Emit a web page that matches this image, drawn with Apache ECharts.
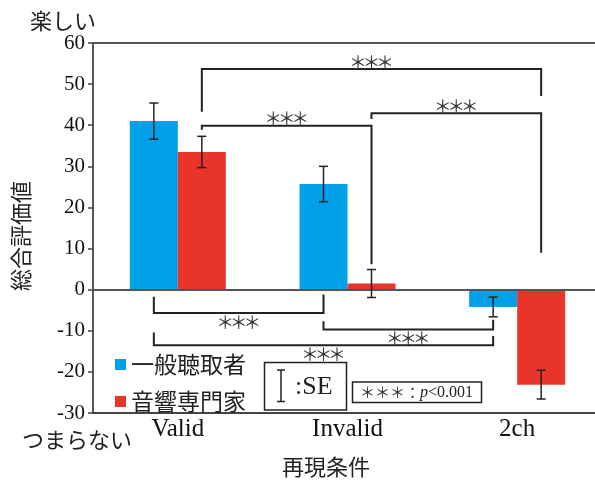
<!DOCTYPE html>
<html>
<head>
<meta charset="utf-8">
<script src="https://cdn.jsdelivr.net/npm/echarts@6/dist/echarts.min.js"></script>
<style>
html,body{margin:0;padding:0;background:#fff;overflow:hidden;}
#c{width:602px;height:483px;}
</style>
</head>
<body>
<div id="c"></div>
<script>
// ---- data ----
const categories = ['Valid', 'Invalid', '2ch'];
const seriesNames = ['一般聴取者', '音響専門家'];
const generalMean = [41.0, 25.7, -4.2];
const generalSE = [4.4, 4.3, 2.4];
const expertMean = [33.5, 1.5, -23.1];
const expertSE = [3.8, 3.4, 3.5];
const yTicks = { min: -30, max: 60, step: 10 };

// significance brackets (category index, series index 0=一般 1=専門, values on y axis)
const bracketFromCat = [0, 0, 1, 0, 1, 0];
const bracketFromSeries = [1, 1, 1, 0, 0, 0];
const bracketFromEnd = [43.3, 38.9, 41.5, -1.7, -7.7, -10.4];
const bracketLevel = [53.7, 39.9, 42.9, -5.7, -9.7, -13.5];
const bracketToCat = [2, 1, 2, 1, 2, 2];
const bracketToSeries = [1, 1, 1, 0, 0, 0];
const bracketToEnd = [47.1, 6.2, 9.0, -1.2, -7.3, -11.3];
const bracketText = ['＊＊＊', '＊＊＊', '＊＊＊', '＊＊＊', '＊＊＊', '＊＊＊'];

// ---- styles ----
const BLUE = '#00A0E9';
const RED = '#E8342A';
const INK = '#222';
const BAR_W = 48;
const STAR_STEP = 13.5;
const SERIF = '"Liberation Serif", "Times New Roman", serif';
const JP = '"Noto Sans CJK JP", sans-serif';

const chart = echarts.init(document.getElementById('c'), null, { renderer: 'canvas' });

function offsetFor(s) { return s === 0 ? -BAR_W / 2 : BAR_W / 2; }

function errorSeries(name, means, ses, s) {
  return {
    type: 'custom',
    name: name + '_err',
    z: 5,
    clip: false,
    data: categories.map((c, i) => [i, means[i], ses[i]]),
    renderItem: function (params, api) {
      const cat = api.value(0), m = api.value(1), e = api.value(2);
      const lo = api.coord([cat, m - e]);
      const hi = api.coord([cat, m + e]);
      const x = lo[0] + offsetFor(s);
      const st = { stroke: INK, lineWidth: 1.5 };
      return {
        type: 'group',
        children: [
          { type: 'line', shape: { x1: x, y1: lo[1], x2: x, y2: hi[1] }, style: st },
          { type: 'line', shape: { x1: x - 4.5, y1: lo[1], x2: x + 4.5, y2: lo[1] }, style: st },
          { type: 'line', shape: { x1: x - 4.5, y1: hi[1], x2: x + 4.5, y2: hi[1] }, style: st }
        ]
      };
    }
  };
}

const bracketSeries = {
  type: 'custom',
  name: 'brackets',
  z: 6,
  clip: false,
  data: bracketLevel.map((v, i) => [i, v]),
  renderItem: function (params, api) {
    const i = params.dataIndex;
    const xa = api.coord([bracketFromCat[i], 0])[0] + offsetFor(bracketFromSeries[i]);
    const xb = api.coord([bracketToCat[i], 0])[0] + offsetFor(bracketToSeries[i]);
    const ya = api.coord([0, bracketFromEnd[i]])[1];
    const yl = api.coord([0, bracketLevel[i]])[1];
    const yb = api.coord([0, bracketToEnd[i]])[1];
    const up = bracketLevel[i] > 0;
    const chars = Array.from(bracketText[i]);
    const xm = (xa + xb) / 2;
    const ty = up ? yl - 7 : yl + 9;
    const children = [
      { type: 'polyline', shape: { points: [[xa, ya], [xa, yl], [xb, yl], [xb, yb]] },
        style: { stroke: INK, lineWidth: 2, fill: null } }
    ];
    chars.forEach((ch, k) => {
      children.push({ type: 'text', x: xm + (k - (chars.length - 1) / 2) * STAR_STEP, y: ty,
        style: { text: ch, fill: '#333', font: '18px ' + JP, align: 'center', verticalAlign: 'middle' } });
    });
    return { type: 'group', children: children };
  }
};

const option = {
  animation: false,
  backgroundColor: '#fff',
  grid: { left: 93, right: 0, top: 43, bottom: 70 },
  legend: {
    data: seriesNames,
    orient: 'vertical',
    left: 110,
    top: 348,
    itemWidth: 11,
    itemHeight: 11,
    itemGap: 14,
    icon: 'rect',
    textStyle: { fontFamily: JP, fontSize: 23, color: INK, lineHeight: 23 }
  },
  xAxis: {
    type: 'category',
    data: categories,
    axisLine: { onZero: false, lineStyle: { color: '#444', width: 1.8 } },
    axisTick: { show: false },
    axisLabel: { fontFamily: SERIF, fontSize: 25, color: '#111', margin: 4 }
  },
  yAxis: {
    type: 'value',
    min: yTicks.min,
    max: yTicks.max,
    interval: yTicks.step,
    axisLine: { show: true, lineStyle: { color: '#444', width: 1.8 } },
    axisTick: { show: true, length: 5, lineStyle: { color: '#444', width: 1.5 } },
    axisLabel: { fontFamily: SERIF, fontSize: 21, color: '#111', margin: 8 },
    splitLine: { show: false }
  },
  series: [
    {
      type: 'bar', name: seriesNames[0], data: generalMean, barWidth: BAR_W, barGap: '0%',
      itemStyle: { color: BLUE },
      markLine: {
        silent: true, symbol: 'none', label: { show: false },
        lineStyle: { color: '#555', width: 1.8, type: 'solid' },
        data: [{ yAxis: 0 }, { yAxis: yTicks.max }]
      }
    },
    {
      type: 'bar', name: seriesNames[1], data: expertMean, barWidth: BAR_W, barGap: '0%',
      itemStyle: { color: RED }
    },
    errorSeries(seriesNames[0], generalMean, generalSE, 0),
    errorSeries(seriesNames[1], expertMean, expertSE, 1),
    bracketSeries
  ],
  graphic: [
    { type: 'text', left: 30, top: 10, style: { text: '楽しい', font: '22px ' + JP, fill: INK } },
    { type: 'text', left: 22, top: 429, style: { text: 'つまらない', font: '22px ' + JP, fill: INK } },
    { type: 'text', x: 326, y: 467, style: { text: '再現条件', font: '22px ' + JP, fill: INK, align: 'center', verticalAlign: 'middle' } },
    { type: 'text', x: 21, y: 236, rotation: Math.PI / 2,
      style: { text: '総合評価値', font: '22px ' + JP, fill: INK, align: 'center', verticalAlign: 'middle' } },
    // SE key box
    { type: 'rect', shape: { x: 264.5, y: 362.5, width: 82, height: 47.5 }, style: { fill: '#fff', stroke: INK, lineWidth: 1.5 }, z: 10 },
    { type: 'line', shape: { x1: 281, y1: 370, x2: 281, y2: 401.5 }, style: { stroke: INK, lineWidth: 1.5 }, z: 11 },
    { type: 'line', shape: { x1: 277, y1: 370, x2: 285, y2: 370 }, style: { stroke: INK, lineWidth: 1.5 }, z: 11 },
    { type: 'line', shape: { x1: 277, y1: 401.5, x2: 285, y2: 401.5 }, style: { stroke: INK, lineWidth: 1.5 }, z: 11 },
    { type: 'text', x: 295, y: 387, z: 11, style: { text: ':SE', font: '26px ' + SERIF, fill: INK, verticalAlign: 'middle' } },
    // p-value key box
    { type: 'rect', shape: { x: 352.5, y: 382, width: 129, height: 20.5 }, style: { fill: '#fff', stroke: INK, lineWidth: 1.5 }, z: 10 },
    { type: 'text', x: 360, y: 392.5, z: 11,
      style: {
        text: '{a|＊＊＊：}{b|p}{c|<0.001}',
        verticalAlign: 'middle',
        rich: {
          a: { font: '15px ' + JP, fill: '#333' },
          b: { font: 'italic 16px ' + SERIF, fill: INK },
          c: { font: '16px ' + SERIF, fill: INK }
        }
      } }
  ]
};

chart.setOption(option);
</script>
</body>
</html>
